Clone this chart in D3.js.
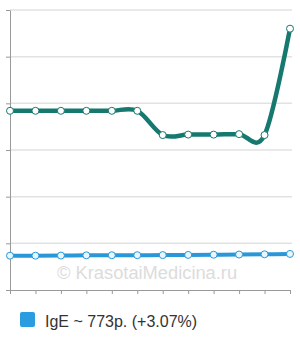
<!DOCTYPE html>
<html lang="ru">
<head>
<meta charset="UTF-8">
<title>IgE</title>
<script src="https://d3js.org/d3.v7.min.js"></script>
<style>
  body { margin: 0; background: #fff; }
  svg { display: block; }
</style>
</head>
<body>
<script>
// 12 points along the x axis, no labels
const points = d3.range(12);
const tealValues = [3840, 3840, 3840, 3840, 3840, 3840, 3320, 3330, 3330, 3340, 3320, 5600];
const blueValues = [735, 735, 738, 743, 745, 746, 748, 752, 756, 760, 765, 773];
const yTicks = [0, 1000, 2000, 3000, 4000, 5000, 6000];
const legendLabel = "IgE ~ 773р. (+3.07%)";
const watermark = "© KrasotaiMedicina.ru";

const width = 300, height = 340;
const plotLeft = 10, plotRight = 290, plotTop = 10, plotBottom = 290;

const x = d3.scaleLinear().domain([0, 11]).range([plotLeft, plotRight]);
const y = d3.scaleLinear().domain([0, 6000]).range([plotBottom, plotTop]);

const svg = d3.select("body").append("svg")
  .attr("width", width)
  .attr("height", height);

// gridlines
svg.append("g")
  .selectAll("line")
  .data(yTicks.slice(1))
  .enter().append("line")
  .attr("x1", plotLeft).attr("x2", plotRight + 2)
  .attr("y1", d => y(d)).attr("y2", d => y(d))
  .attr("stroke", "#e2e2e2")
  .attr("stroke-width", 1.5);

// y axis with small ticks on the left
const yAxis = svg.append("g")
  .attr("transform", `translate(${plotLeft},0)`)
  .call(d3.axisLeft(y).tickValues(yTicks).tickSize(4).tickSizeOuter(0).tickFormat(""));
yAxis.select(".domain").attr("stroke", "#999");
yAxis.selectAll(".tick line").attr("stroke", "#999");

// x axis, ticks below
const xAxis = svg.append("g")
  .attr("transform", `translate(0,${plotBottom})`)
  .call(d3.axisBottom(x).tickValues(points).tickSize(4).tickSizeOuter(0).tickFormat(""));
xAxis.select(".domain").attr("stroke", "#999");
xAxis.selectAll(".tick line").attr("stroke", "#999");

// watermark
svg.append("text")
  .attr("x", 57).attr("y", 279)
  .attr("font-family", "Liberation Sans, Arial, sans-serif")
  .attr("font-size", "18.3px")
  .attr("fill", "#dcdcdc")
  .text(watermark);

const line = d3.line()
  .x((d, i) => x(i))
  .y(d => y(d))
  .curve(d3.curveCardinal);

function drawSeries(values, color, fill, w) {
  svg.append("path")
    .datum(values)
    .attr("d", line)
    .attr("fill", "none")
    .attr("stroke", color)
    .attr("stroke-width", w)
    .attr("stroke-linejoin", "round");
  svg.append("g")
    .selectAll("circle")
    .data(values)
    .enter().append("circle")
    .attr("cx", (d, i) => x(i))
    .attr("cy", d => y(d))
    .attr("r", 3.5)
    .attr("fill", fill)
    .attr("stroke", color)
    .attr("stroke-width", 1);
}

drawSeries(tealValues, "#16796f", "#ffffff", 4.5);
drawSeries(blueValues, "#2a98d8", "#e8f6ff", 4);

// legend
svg.append("rect")
  .attr("x", 20).attr("y", 312)
  .attr("width", 15).attr("height", 15)
  .attr("rx", 2)
  .attr("fill", "#2a9ce0");
svg.append("text")
  .attr("x", 45).attr("y", 327)
  .attr("font-family", "Liberation Sans, Arial, sans-serif")
  .attr("font-size", "16px")
  .attr("fill", "#333")
  .text(legendLabel);
</script>
</body>
</html>
